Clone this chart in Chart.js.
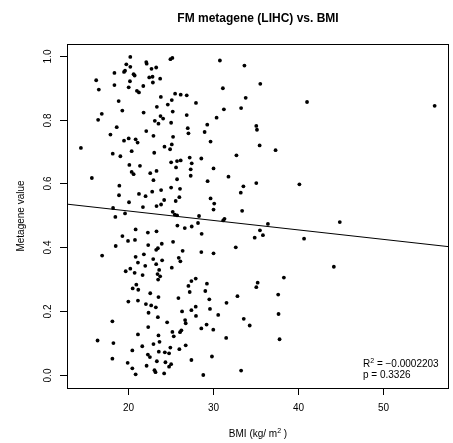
<!DOCTYPE html>
<html>
<head>
<meta charset="utf-8">
<script src="https://cdn.jsdelivr.net/npm/chart.js@4.4.1/dist/chart.umd.min.js"></script>
<style>
  html, body { margin: 0; padding: 0; background: #fff; }
</style>
</head>
<body>
<canvas id="bmiChart" width="453" height="443"></canvas>
<script>
// BMI per sample and FM metagene score, same order
const bmi = [
  20.27, 22.15, 22.2, 25.0, 25.23, 19.8, 20.27, 22.77, 23.32, 19.53, 19.65, 18.4, 20.66, 20.78, 16.25,
  22.5, 22.89, 23.79, 20.23, 18.4, 22.93, 16.56, 20.08, 21.8, 21.05, 21.29, 23.87, 25.55, 26.21, 18.9,
  25.16, 24.69, 23.4, 19.33, 21.84, 25.27, 16.91, 16.48, 23.83, 24.14, 23.16, 23.59, 25.08, 18.67, 22.15,
  17.93, 23.0, 25.31, 20.08, 20.9, 19.53, 21.13, 25.16, 24.3, 24.96, 14.45, 20.43, 18.2, 19.1, 23.09,
  25.78, 26.21, 25.08, 20.16, 21.41, 25.66, 20.43, 20.66, 23.36, 22.62, 15.74, 25.78, 23.0, 18.98, 25.08,
  26.13, 23.9, 22.85, 18.94, 21.29, 22.07, 26.05, 25.62, 24.26, 20.12, 23.36, 23.9, 21.76, 18.24, 25.27,
  25.51, 25.78, 19.65, 18.51,
  30.83, 33.72, 35.59, 31.18, 26.92, 33.87, 28.01, 31.3, 33.33, 26.92, 30.44, 29.34, 35.12, 35.2, 27.04,
  27.12, 29.03, 29.73, 35.51, 37.39, 32.78, 27.27, 28.64, 27.51, 30.08, 27.39, 27.39, 31.84, 29.38, 35.12,
  33.6, 40.2, 33.29, 29.73, 30.16, 30.08, 33.45, 28.37, 41.1, 56.14,
  20.9, 22.34, 23.36, 25.82, 19.34, 20.0, 20.82, 18.55, 22.38, 23.98, 25.31, 23.32, 23.52, 26.44, 16.95,
  20.9, 21.87, 22.97, 24.02, 25.98, 26.17, 21.17, 22.03, 23.32, 19.73, 20.27, 20.78, 21.72, 23.67, 25.16,
  23.48, 23.79, 23.55, 20.98, 20.55, 21.21, 22.62, 23.59, 25.94, 20.04, 21.17, 22.11, 22.73, 23.28, 22.42,
  26.37, 23.52, 18.16, 24.61, 22.38, 25.23, 26.13, 26.29, 21.17, 23.59, 25.39, 16.41, 18.28, 23.71, 23.0,
  21.68, 24.99, 26.05, 20.51, 23.63, 24.34, 24.84, 22.34, 22.58, 18.16, 23.4, 24.41, 25.08, 24.84, 19.96,
  22.19, 20.51, 23.12, 23.24, 24.26, 20.9,
  31.22, 31.37, 36.49, 26.69, 27.51, 28.25, 35.55, 28.68, 34.93, 35.9, 40.75, 32.7, 28.64, 30.08, 27.98,
  27.47, 27.12, 29.3, 38.37, 35.28, 35.12, 27.27, 29.11, 32.9, 37.7, 29.58, 31.61, 27.98, 27.47, 29.66,
  28.01, 30.63, 37.74, 26.73, 26.8, 33.64, 29.26, 34.34, 28.64, 30.05, 31.57, 37.86, 26.8, 29.89, 27.47,
  33.33, 28.87, 44.96, 44.26
];
const metagene = [
  0.996, 0.980, 0.975, 0.989, 0.993, 0.973, 0.965, 0.959, 0.963, 0.949, 0.953, 0.946, 0.942, 0.938, 0.923,
  0.932, 0.934, 0.928, 0.920, 0.908, 0.916, 0.894, 0.901, 0.905, 0.890, 0.885, 0.871, 0.881, 0.878, 0.858,
  0.861, 0.847, 0.840, 0.828, 0.822, 0.825, 0.818, 0.799, 0.811, 0.803, 0.796, 0.787, 0.790, 0.776, 0.764,
  0.753, 0.749, 0.746, 0.741, 0.738, 0.734, 0.728, 0.722, 0.715, 0.707, 0.711, 0.701, 0.693, 0.685, 0.696,
  0.670, 0.672, 0.666, 0.658, 0.655, 0.650, 0.636, 0.629, 0.639, 0.632, 0.617, 0.613, 0.610, 0.593, 0.587,
  0.583, 0.579, 0.574, 0.563, 0.567, 0.560, 0.557, 0.545, 0.548, 0.541, 0.529, 0.534, 0.526, 0.523, 0.511,
  0.502, 0.500, 0.506, 0.495,
  0.985, 0.969, 0.912, 0.898, 0.876, 0.868, 0.852, 0.832, 0.836, 0.814, 0.806, 0.784, 0.780, 0.768, 0.773,
  0.757, 0.761, 0.731, 0.719, 0.704, 0.688, 0.681, 0.678, 0.663, 0.647, 0.644, 0.624, 0.621, 0.607, 0.601,
  0.591, 0.597, 0.571, 0.553, 0.537, 0.518, 0.514, 0.498, 0.855, 0.843,
  0.456, 0.446, 0.450, 0.468, 0.435, 0.420, 0.423, 0.404, 0.407, 0.411, 0.417, 0.392, 0.397, 0.389, 0.374,
  0.370, 0.378, 0.363, 0.359, 0.367, 0.356, 0.352, 0.342, 0.347, 0.325, 0.333, 0.320, 0.313, 0.329, 0.336,
  0.316, 0.309, 0.299, 0.283, 0.271, 0.267, 0.256, 0.244, 0.241, 0.230, 0.233, 0.222, 0.218, 0.212, 0.195,
  0.199, 0.181, 0.168, 0.165, 0.150, 0.135, 0.134, 0.140, 0.127, 0.124, 0.121, 0.108, 0.100, 0.104, 0.097,
  0.090, 0.086, 0.081, 0.077, 0.073, 0.071, 0.068, 0.064, 0.056, 0.051, 0.043, 0.040, 0.034, 0.026, 0.038,
  0.029, 0.021, 0.015, 0.009, 0.005, 0.002,
  0.484, 0.489, 0.473, 0.460, 0.465, 0.476, 0.453, 0.442, 0.430, 0.438, 0.427, 0.400, 0.385, 0.381, 0.302,
  0.294, 0.279, 0.286, 0.305, 0.289, 0.275, 0.260, 0.263, 0.247, 0.252, 0.237, 0.226, 0.214, 0.203, 0.207,
  0.185, 0.188, 0.191, 0.172, 0.162, 0.176, 0.158, 0.155, 0.146, 0.142, 0.116, 0.112, 0.093, 0.058, 0.047,
  0.014, 0.000, 0.479, 0.339
];

const xTicks = [20, 30, 40, 50];
const yTicks = [0.0, 0.2, 0.4, 0.6, 0.8, 1.0];
const xRange = [12.81, 57.83];
const yRange = [-0.0407, 1.0366];

// linear fit metagene ~ bmi
const fitIntercept = 0.573;
const fitSlope = -0.00296;
const fitStats = ['\u2212' + '0.0002203', '0.3326'];

const FONT = '"Liberation Sans", Arial, Helvetica, sans-serif';

const points = bmi.map((b, i) => ({ x: b, y: metagene[i] }));
const fitLine = xRange.map(x => ({ x: x, y: fitIntercept + fitSlope * x }));

// draws text with a small raised "2" after the first part
function supText(ctx, parts, x, y, size, align) {
  ctx.font = size + 'px ' + FONT;
  const w0 = ctx.measureText(parts[0]).width;
  const w2 = ctx.measureText(parts[2]).width;
  ctx.font = (size * 0.7) + 'px ' + FONT;
  const w1 = ctx.measureText('2').width;
  let left = x;
  if (align === 'center') left = x - (w0 + w1 + w2) / 2;
  ctx.textAlign = 'left';
  ctx.textBaseline = 'alphabetic';
  ctx.font = size + 'px ' + FONT;
  ctx.fillText(parts[0], left, y);
  ctx.font = (size * 0.7) + 'px ' + FONT;
  ctx.fillText('2', left + w0, y - size * 0.45);
  ctx.font = size + 'px ' + FONT;
  ctx.fillText(parts[2], left + w0 + w1, y);
}

const baseGraphics = {
  id: 'baseGraphics',
  afterDraw(chart) {
    const ctx = chart.ctx;
    const a = chart.chartArea;
    const xs = chart.scales.x, ys = chart.scales.y;
    ctx.save();
    ctx.strokeStyle = '#000';
    ctx.fillStyle = '#000';
    ctx.lineWidth = 1;

    // frame
    ctx.strokeRect(Math.round(a.left) + 0.5, Math.round(a.top) + 0.5,
      Math.round(a.right - a.left) - 1, Math.round(a.bottom - a.top));

    // x axis ticks
    ctx.font = '10px ' + FONT;
    ctx.textAlign = 'center';
    ctx.textBaseline = 'middle';
    xTicks.forEach(t => {
      const px = Math.round(xs.getPixelForValue(t)) + 0.5;
      ctx.beginPath();
      ctx.moveTo(px, a.bottom);
      ctx.lineTo(px, a.bottom + 7);
      ctx.stroke();
      ctx.fillText(String(t), px, a.bottom + 20);
    });

    // y axis ticks, labels parallel to the axis
    yTicks.forEach(t => {
      const py = Math.round(ys.getPixelForValue(t)) + 0.5;
      ctx.beginPath();
      ctx.moveTo(a.left, py);
      ctx.lineTo(a.left - 7, py);
      ctx.stroke();
      ctx.save();
      ctx.translate(a.left - 19, py);
      ctx.rotate(-Math.PI / 2);
      ctx.fillText(t.toFixed(1), 0, 0);
      ctx.restore();
    });

    // titles
    ctx.font = 'bold 12px ' + FONT;
    ctx.textAlign = 'center';
    ctx.fillText('FM metagene (LIHC) vs. BMI', (a.left + a.right) / 2, 19);

    ctx.save();
    ctx.font = '10px ' + FONT;
    ctx.translate(21, (a.top + a.bottom) / 2);
    ctx.rotate(-Math.PI / 2);
    ctx.fillText('Metagene value', 0, 0);
    ctx.restore();

    supText(ctx, ['BMI (kg/ m', '2', ' )'], (a.left + a.right) / 2, a.bottom + 49, 10, 'center');

    // fit statistics
    supText(ctx, ['R', '2', ' = ' + fitStats[0]], 363, 367, 10, 'left');
    ctx.font = '10px ' + FONT;
    ctx.textAlign = 'left';
    ctx.fillText('p = ' + fitStats[1], 363, 378);

    ctx.restore();
  }
};

new Chart(document.getElementById('bmiChart'), {
  type: 'scatter',
  data: {
    datasets: [{
      data: fitLine,
      showLine: true,
      borderColor: '#000',
      borderWidth: 1,
      pointRadius: 0
    }, {
      data: points,
      backgroundColor: '#000',
      borderColor: '#000',
      borderWidth: 0,
      pointRadius: 1.9
    }]
  },
  options: {
    responsive: false,
    animation: false,
    devicePixelRatio: 1,
    layout: { padding: { left: 67, top: 44, right: 2, bottom: 55 } },
    plugins: {
      legend: { display: false },
      tooltip: { enabled: false },
      title: { display: false }
    },
    scales: {
      x: { type: 'linear', min: xRange[0], max: xRange[1], display: false },
      y: { type: 'linear', min: yRange[0], max: yRange[1], display: false }
    }
  },
  plugins: [baseGraphics]
});
</script>
</body>
</html>
